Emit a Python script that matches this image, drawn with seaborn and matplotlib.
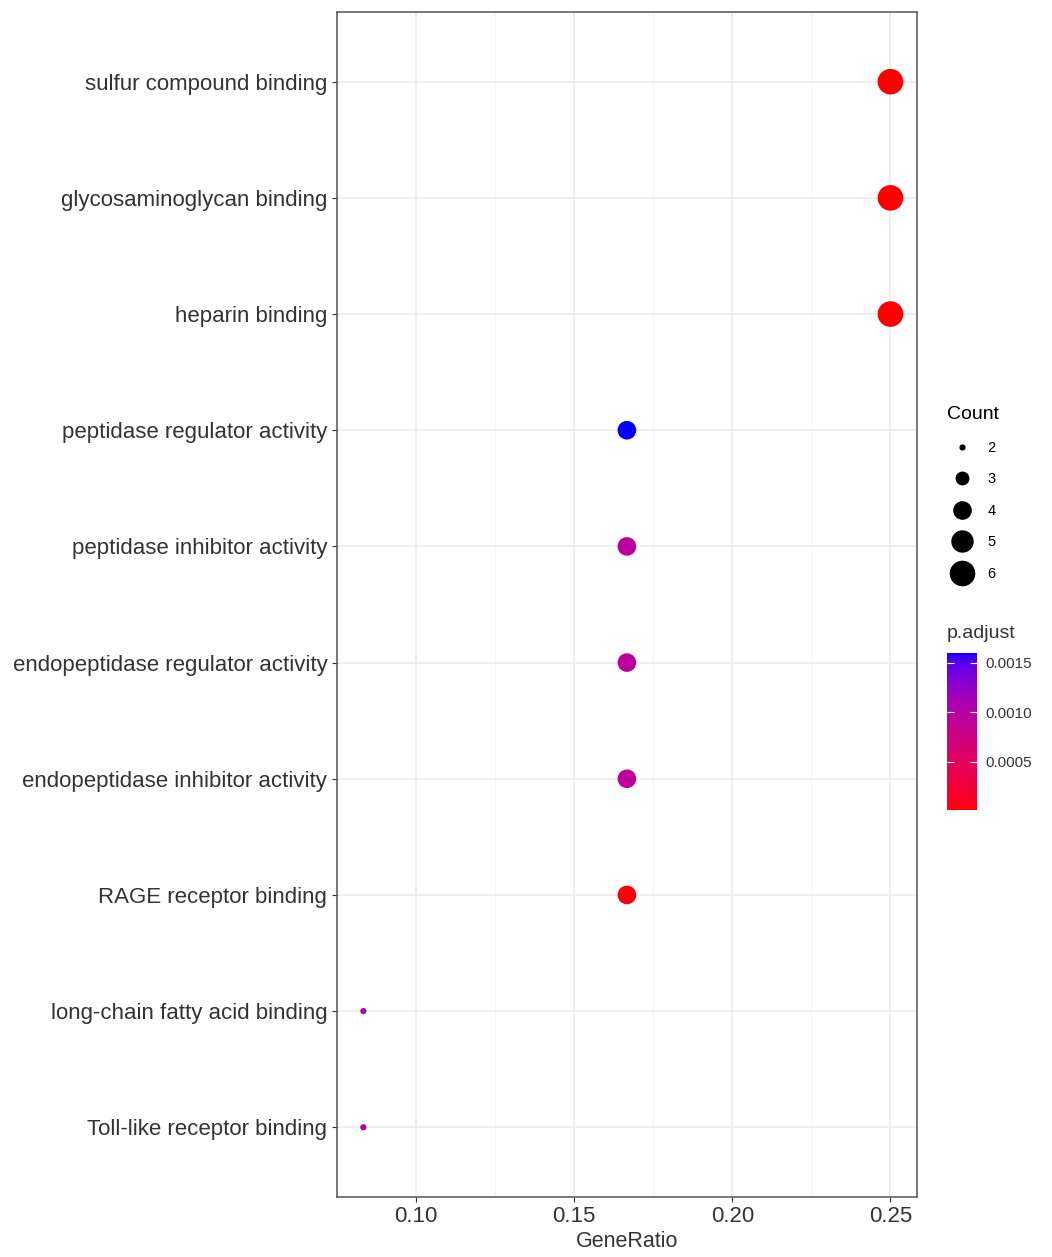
import numpy as np
import pandas as pd
import matplotlib
matplotlib.use('Agg')
import matplotlib.pyplot as plt
import seaborn as sns
from matplotlib.colors import LinearSegmentedColormap, Normalize
from matplotlib.lines import Line2D

# Data
terms = ['sulfur compound binding', 'glycosaminoglycan binding', 'heparin binding',
         'peptidase regulator activity', 'peptidase inhibitor activity',
         'endopeptidase regulator activity', 'endopeptidase inhibitor activity',
         'RAGE receptor binding', 'long-chain fatty acid binding', 'Toll-like receptor binding']
gene_ratio = [6/24, 6/24, 6/24, 4/24, 4/24, 4/24, 4/24, 4/24, 2/24, 2/24]
count = [6, 6, 6, 4, 4, 4, 4, 4, 2, 2]
p_adjust = [0.00001, 0.00001, 0.00001, 0.00160, 0.00093, 0.00093, 0.00093, 0.00004, 0.00100, 0.00100]
count_levels = [2, 3, 4, 5, 6]
cbar_ticks = [0.0005, 0.0010, 0.0015]

df = pd.DataFrame({'Description': terms, 'GeneRatio': gene_ratio,
                   'Count': count, 'p.adjust': p_adjust})


# red -> blue gradient interpolated in Lab space (like ggplot2)
def lab_to_rgb(L, a, b):
    fy = (L + 16) / 116
    fx = fy + a / 500
    fz = fy - b / 200

    def finv(t):
        return np.where(t > 6 / 29, t ** 3, 3 * (6 / 29) ** 2 * (t - 4 / 29))
    X, Y, Z = 0.95047 * finv(fx), finv(fy), 1.08883 * finv(fz)
    r = 3.2406 * X - 1.5372 * Y - 0.4986 * Z
    g = -0.9689 * X + 1.8758 * Y + 0.0415 * Z
    bb = 0.0557 * X - 0.2040 * Y + 1.0570 * Z
    rgb = np.stack([r, g, bb], axis=-1)
    rgb = np.clip(rgb, 0, 1)
    rgb = np.where(rgb <= 0.0031308, 12.92 * rgb, 1.055 * rgb ** (1 / 2.4) - 0.055)
    return np.clip(rgb, 0, 1)


t = np.linspace(0, 1, 256)
red_lab = np.array([53.2408, 80.0925, 67.2032])
blue_lab = np.array([32.2970, 79.1875, -107.8602])
lab = red_lab[None, :] * (1 - t[:, None]) + blue_lab[None, :] * t[:, None]
cmap = LinearSegmentedColormap.from_list('rb', lab_to_rgb(lab[:, 0], lab[:, 1], lab[:, 2]))
norm = Normalize(vmin=min(p_adjust), vmax=max(p_adjust))

plt.rcParams['font.family'] = ['Liberation Sans', 'DejaVu Sans']
fig = plt.figure(figsize=(10.52, 12.57), dpi=100)
ax = fig.add_axes([337 / 1052, 60 / 1257, 580 / 1052, 1185 / 1257])

s_min, s_max = 20, 340
sns.scatterplot(data=df, x='GeneRatio', y='Description', hue='p.adjust', palette=cmap,
                hue_norm=norm, size='Count', sizes=(s_min, s_max), size_norm=(2, 6),
                linewidth=0, legend=False, ax=ax, zorder=3)

ax.set_xlim(0.075, 0.2584)
ax.set_ylim(len(terms) - 0.4, -0.6)
ax.set_xticks([0.10, 0.15, 0.20, 0.25])
ax.set_xticklabels(['0.10', '0.15', '0.20', '0.25'])
ax.set_xticks([0.075, 0.125, 0.175, 0.225], minor=True)
ax.grid(True, which='major', color='#ebebeb', linewidth=1.1)
ax.grid(True, which='minor', axis='x', color='#f2f2f2', linewidth=0.6)
ax.set_axisbelow(True)
ax.tick_params(axis='both', which='major', labelsize=16, colors='#333333',
               labelcolor='#333333', length=3.5, width=0.8)
ax.tick_params(axis='x', which='major', pad=3)
ax.tick_params(axis='x', which='minor', length=0)
ax.set_xlabel('GeneRatio', fontsize=15.5, color='#333333', labelpad=3)
ax.set_ylabel('')
for sp in ax.spines.values():
    sp.set_color('#555555')
    sp.set_linewidth(1.1)

# Count legend
handles = []
for c in count_levels:
    s = s_min + (s_max - s_min) * (c - 2) / 4
    handles.append(Line2D([], [], linestyle='', marker='o', markersize=np.sqrt(s),
                          markerfacecolor='black', markeredgewidth=0, label=str(c)))
leg = fig.legend(handles=handles, title='Count', loc='upper left',
                 bbox_to_anchor=(937 / 1052, 1 - 396 / 1257), frameon=False,
                 fontsize=10.5, title_fontsize=14, labelspacing=1.2,
                 handletextpad=0.75, borderpad=0.2, handlelength=2.0)
leg._legend_box.align = 'left'

# p.adjust colorbar
cax = fig.add_axes([947 / 1052, (1257 - 810) / 1257, 30 / 1052, 157 / 1257])
sm = plt.cm.ScalarMappable(norm=norm, cmap=cmap)
cb = fig.colorbar(sm, cax=cax, ticks=cbar_ticks)
cb.outline.set_visible(False)
cb.ax.set_yticklabels(['0.0005', '0.0010', '0.0015'])
cb.ax.tick_params(labelsize=11, length=5, width=0.8, color='white', direction='in',
                  labelcolor='#333333', pad=6, left=True, right=True)
fig.text(947 / 1052, 1 - 634 / 1257, 'p.adjust', fontsize=14, color='#333333',
         va='center', ha='left')

fig.savefig('out.png', dpi=100)
